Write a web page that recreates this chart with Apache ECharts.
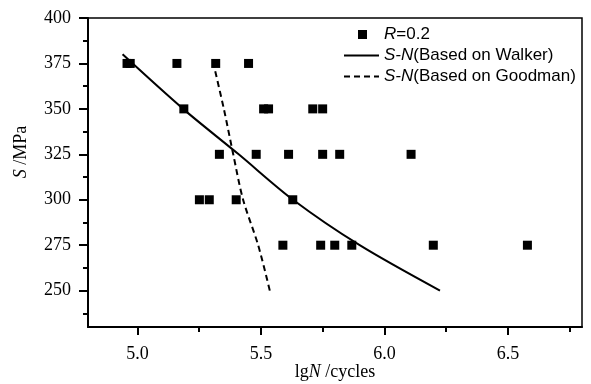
<!DOCTYPE html>
<html>
<head>
<meta charset="utf-8">
<script src="https://cdn.jsdelivr.net/npm/echarts@6/dist/echarts.min.js"></script>
<style>html,body{margin:0;padding:0;background:#fff;}#c{width:591px;height:384px;}</style>
</head>
<body>
<div id="c"></div>
<script>
// Experimental points (R = 0.2)
var scatterLgN = [4.958, 4.971, 5.160, 5.317, 5.450,
                  5.188, 5.511, 5.531, 5.710, 5.750,
                  5.332, 5.481, 5.612, 5.750, 5.819, 6.108,
                  5.251, 5.291, 5.400, 5.629,
                  5.589, 5.742, 5.799, 5.868, 6.198, 6.579];
var scatterS = [375, 375, 375, 375, 375,
                350, 350, 350, 350, 350,
                325, 325, 325, 325, 325, 325,
                300, 300, 300, 300,
                275, 275, 275, 275, 275, 275];
// S-N curve based on Walker
var walkerLgN = [4.94, 5.185, 5.41, 5.63, 5.90, 6.225];
var walkerS = [380, 350, 325, 300, 275, 250];
// S-N curve based on Goodman
var goodmanLgN = [5.306, 5.350, 5.388, 5.428, 5.489, 5.536];
var goodmanS = [376, 350, 325, 300, 275, 250];
// tick labels
var xTickLabels = [5.0, 5.5, 6.0, 6.5];
var xMinorTicks = [5.25, 5.75, 6.25, 6.75];
var yTickLabels = [250, 275, 300, 325, 350, 375, 400];
var yMinorTicks = [237.5, 262.5, 287.5, 312.5, 337.5, 362.5, 387.5];
var seriesNames = ['R=0.2', 'S-N(Based on Walker)', 'S-N(Based on Goodman)'];

function pairs(xs, ys) { return xs.map(function (x, i) { return [x, ys[i]]; }); }

var serif = 'Liberation Serif';
var sans = 'Liberation Sans';
var chart = echarts.init(document.getElementById('c'), null, {renderer: 'canvas'});
var X_MIN = 4.8, X_MAX = 6.8, Y_MIN = 230, Y_MAX = 400;
var hiddenDot = {color: 'rgba(0,0,0,0)', borderWidth: 0};

chart.setOption({
  animation: false,
  backgroundColor: '#fff',
  grid: {left: 88, right: 9, top: 18, bottom: 57, containLabel: false, outerBoundsMode: 'none',
    show: true, borderColor: '#000', borderWidth: 1.5, backgroundColor: 'transparent'},
  legend: {
    orient: 'vertical', left: 338, top: 21, itemWidth: 35, itemHeight: 10, itemGap: 4,
    data: [
      {name: seriesNames[0], icon: 'path://M0,4.5L35,4.5M14,0L23,0L23,9L14,9Z'},
      {name: seriesNames[1], itemStyle: hiddenDot},
      {name: seriesNames[2], itemStyle: hiddenDot}
    ],
    textStyle: {fontFamily: sans, fontSize: 17, color: '#000', lineHeight: 17,
      rich: {i: {fontFamily: sans, fontSize: 17, fontStyle: 'italic', color: '#000'}}},
    formatter: function (name) {
      if (name === seriesNames[0]) return '{i|R}=0.2';
      if (name === seriesNames[1]) return '{i|S-N}(Based on Walker)';
      return '{i|S-N}(Based on Goodman)';
    }
  },
  xAxis: [{
    type: 'value', min: X_MIN, max: X_MAX, position: 'bottom',
    name: '{n|lg}{i|N}{n| /cycles}', nameLocation: 'middle', nameGap: 36, nameMoveOverlap: false,
    nameTextStyle: {rich: {n: {fontFamily: serif, fontSize: 18, color: '#000'}, i: {fontFamily: serif, fontSize: 18, fontStyle: 'italic', color: '#000'}}},
    axisLine: {show: true, lineStyle: {color: '#000', width: 2}},
    axisTick: {show: true, inside: false, length: 8, lineStyle: {color: '#000', width: 2}, customValues: xTickLabels},
    axisLabel: {show: true, customValues: xTickLabels, margin: 18, fontFamily: serif, fontSize: 18, color: '#000',
      formatter: function (v) { return v.toFixed(1); }},
    splitLine: {show: false}
  }, {
    type: 'value', min: X_MIN, max: X_MAX, position: 'bottom',
    axisLine: {show: false},
    axisTick: {show: true, length: 5, lineStyle: {color: '#000', width: 2}, customValues: xMinorTicks},
    axisLabel: {show: false}, splitLine: {show: false}
  }],
  yAxis: [{
    type: 'value', min: Y_MIN, max: Y_MAX, position: 'left',
    axisLine: {show: true, lineStyle: {color: '#000', width: 2}},
    axisTick: {show: true, length: 9, lineStyle: {color: '#000', width: 2}, customValues: yTickLabels},
    axisLabel: {show: true, customValues: yTickLabels, margin: 17, fontFamily: serif, fontSize: 18, color: '#000'},
    splitLine: {show: false}
  }, {
    type: 'value', min: Y_MIN, max: Y_MAX, position: 'left',
    axisLine: {show: false},
    axisTick: {show: true, length: 5, lineStyle: {color: '#000', width: 2}, customValues: yMinorTicks},
    axisLabel: {show: false}, splitLine: {show: false}
  }],
  graphic: [{
    type: 'text', x: 21, y: 152, rotation: Math.PI / 2,
    style: {text: '{i|S} /MPa', fontFamily: serif, fontSize: 18, fill: '#000', align: 'center', verticalAlign: 'middle',
      rich: {i: {fontFamily: serif, fontSize: 18, fontStyle: 'italic', fill: '#000'}}}
  }],
  series: [{
    name: seriesNames[0], type: 'scatter', symbol: 'rect', symbolSize: 9,
    itemStyle: {color: '#000', opacity: 1}, data: pairs(scatterLgN, scatterS)
  }, {
    name: seriesNames[1], type: 'line', symbol: 'none', smooth: 0.3,
    lineStyle: {color: '#000', width: 2, type: 'solid'}, itemStyle: {color: '#000'},
    data: pairs(walkerLgN, walkerS)
  }, {
    name: seriesNames[2], type: 'line', symbol: 'none', smooth: 0.3,
    lineStyle: {color: '#000', width: 2, type: [6, 4]}, itemStyle: {color: '#000'},
    data: pairs(goodmanLgN, goodmanS)
  }]
});
</script>
</body>
</html>
